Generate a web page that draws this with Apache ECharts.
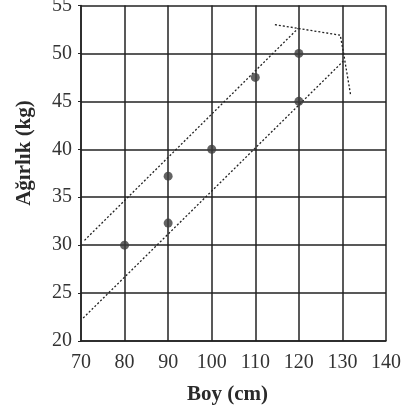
<!DOCTYPE html>
<html><head><meta charset="utf-8">
<script src="https://cdn.jsdelivr.net/npm/echarts@6/dist/echarts.min.js"></script>
<style>html,body{margin:0;padding:0;background:#fff}#c{width:404px;height:411px}</style>
</head><body><div id="c"></div>
<script>
// Data
var xTicks = [70, 80, 90, 100, 110, 120, 130, 140];
var yTicks = [20, 25, 30, 35, 40, 45, 50, 55];
var boy = [80, 90, 90, 100, 110, 120, 120];
var agirlik = [30, 37.2, 32.3, 40, 47.5, 50, 45];
var upperLine = [[70.8, 30.5], [119.8, 52.6]];
var lowerLine = [[70.5, 22.4], [130.2, 49.2]];
var topCurve = [[114.5, 53.0], [120, 52.6], [129.5, 51.9], [130.2, 50.2], [131.9, 45.6]];

var font = '"Liberation Serif", "DejaVu Serif", serif';
var chart = echarts.init(document.getElementById('c'), null, {renderer: 'canvas'});
var dotted = {color: '#222', width: 1.3, type: [2, 2]};
chart.setOption({
  backgroundColor: '#fff',
  animation: false,
  grid: {left: 81, right: 18, top: 5.5, bottom: 70, show: false, outerBoundsMode: 'none', containLabel: false},
  xAxis: {
    type: 'value', min: xTicks[0], max: xTicks[xTicks.length - 1], interval: 10,
    name: 'Boy (cm)', nameLocation: 'middle', nameGap: 43,
    nameTextStyle: {fontFamily: font, fontSize: 21, fontWeight: 'bold', color: '#2a2a2a', padding: [0, 12, 0, 0]},
    axisLine: {show: true, lineStyle: {color: '#222', width: 1.5}},
    axisTick: {show: false},
    axisLabel: {fontFamily: font, fontSize: 20, color: '#333', margin: 12},
    splitLine: {show: true, lineStyle: {color: '#222', width: 1.5}}
  },
  yAxis: {
    type: 'value', min: yTicks[0], max: yTicks[yTicks.length - 1], interval: 5,
    axisLine: {show: true, lineStyle: {color: '#222', width: 1.5}},
    axisTick: {show: true, length: 3, lineStyle: {color: '#222'}},
    axisLabel: {fontFamily: font, fontSize: 20, color: '#333', margin: 9},
    splitLine: {show: true, lineStyle: {color: '#222', width: 1.5}}
  },
  graphic: [{
    type: 'text', x: 25, y: 153, rotation: Math.PI / 2,
    style: {text: 'Ağırlık (kg)', fontFamily: font, fontSize: 21, fontWeight: 'bold',
      fill: '#2a2a2a', align: 'center', verticalAlign: 'middle'}
  }],
  series: [
    {type: 'line', data: upperLine, showSymbol: false, lineStyle: dotted, z: 3},
    {type: 'line', data: lowerLine, showSymbol: false, lineStyle: dotted, z: 3},
    {type: 'line', data: topCurve, showSymbol: false, lineStyle: dotted, z: 3},
    {type: 'scatter', data: boy.map(function (b, i) { return [b, agirlik[i]]; }),
      symbolSize: 9, itemStyle: {color: '#3c3c3c'}, z: 4}
  ]
});
</script></body></html>
